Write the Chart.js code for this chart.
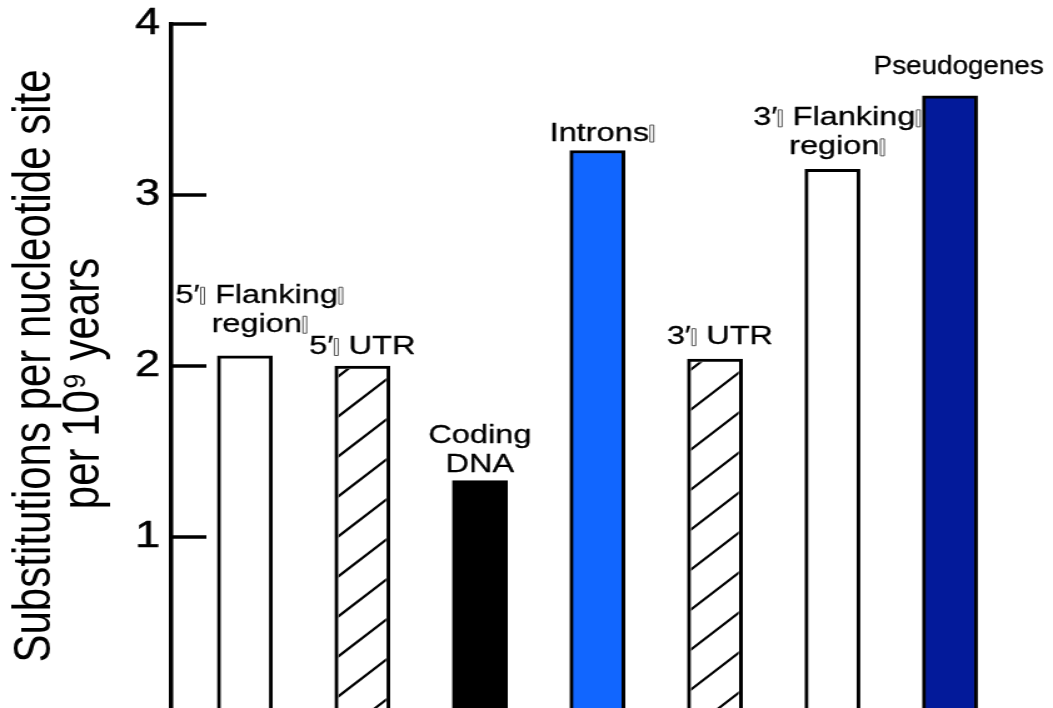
<!DOCTYPE html>
<html><head><meta charset="utf-8">
<script src="https://cdn.jsdelivr.net/npm/chart.js@4.4.0/dist/chart.umd.min.js"></script>
<style>
html,body{margin:0;padding:0;background:#fff;overflow:hidden;}
#wrap{width:1053px;height:708px;position:relative;overflow:hidden;background:#fff;}
#c{position:absolute;left:0;top:0;transform-origin:0 0;transform:scaleX(1.2506);}
</style></head><body>
<div id="wrap"><canvas id="c" width="842" height="708"></canvas></div>
<script>
// the original labels carry an unrenderable character, shown as a thin empty box
const T = '\uE000';
const categories = [
  ['5\u2032' + T + ' Flanking' + T, 'region' + T],
  ['5\u2032' + T + ' UTR'],
  ['Coding', 'DNA'],
  ['Introns' + T],
  ['3\u2032' + T + ' UTR'],
  ['3\u2032' + T + ' Flanking' + T, 'region' + T],
  ['Pseudogenes']
];
const substitutionRates = [2.06, 2.00, 1.33, 3.26, 2.04, 3.15, 3.58];
const yTicks = [1, 2, 3, 4];
const yTitle = ['Substitutions per nucleotide site', 'per 10\u2079 years   '];

// styles (kept apart from the data)
const barFills = ['#ffffff', '#ffffff', '#000000', '#1166ff', '#ffffff', '#ffffff', '#031a9a'];
const hatched = [false, true, false, false, true, false, false];
// small label nudges relative to each bar's own top-centre [dx, dy]
const labelNudge = [[12, -12], [0, 0], [0, 3], [4, 2], [4, -3], [4, -3], [7, -10]];
const LABEL_MAX_W = 136;
const FONT = '"Liberation Sans", Arial, sans-serif';

function drawLabelLine(ctx, str, cx, base) {
  const parts = str.split(T);
  const tofuAdv = 5;
  let total = 0;
  parts.forEach((p, k) => { total += ctx.measureText(p).width; if (k < parts.length - 1) total += tofuAdv; });
  const s = total > LABEL_MAX_W ? LABEL_MAX_W / total : 1;
  ctx.save();
  ctx.translate(cx, base);
  ctx.scale(s, 1);
  let x = -total / 2;
  parts.forEach((p, k) => {
    ctx.fillText(p, x, 0);
    ctx.strokeText(p, x, 0);
    x += ctx.measureText(p).width;
    if (k < parts.length - 1) {
      ctx.save();
      ctx.strokeStyle = '#444';
      ctx.lineWidth = 0.9;
      ctx.strokeRect(x + 0.8, -15.5, 3, 17);
      ctx.restore();
      x += tofuAdv;
    }
  });
  ctx.restore();
}

const decor = {
  id: 'decor',
  afterDatasetsDraw(chart) {
    const {ctx, chartArea, scales: {y}} = chart;
    const meta = chart.getDatasetMeta(0);
    ctx.save();
    ctx.strokeStyle = '#000';
    ctx.lineCap = 'butt';
    // inward tick marks
    ctx.lineWidth = 3.5;
    yTicks.forEach(v => {
      const py = y.getPixelForValue(v);
      ctx.beginPath();
      ctx.moveTo(chartArea.left - 1.5, py);
      ctx.lineTo(chartArea.left + 28, py);
      ctx.stroke();
    });
    // hatching
    meta.data.forEach((bar, i) => {
      if (!hatched[i]) return;
      const p = bar.getProps(['x', 'y', 'base', 'width'], true);
      const bw = 3;
      const L = p.x - p.width / 2;
      const h = p.base - p.y;
      ctx.save();
      ctx.beginPath();
      ctx.rect(L + bw, p.y + bw, p.width - 2 * bw, h - bw);
      ctx.clip();
      ctx.lineWidth = 2.2;
      const slope = 0.96, step = 40;
      const ax = L + 13.6, ay = p.y;
      for (let k = -1; k * step < h + 80; k++) {
        const yy = ay + k * step;
        ctx.beginPath();
        ctx.moveTo(ax - 100, yy + 100 * slope);
        ctx.lineTo(ax + 100, yy - 100 * slope);
        ctx.stroke();
      }
      ctx.restore();
    });
    // category labels above bars
    ctx.fillStyle = '#000';
    ctx.strokeStyle = '#000';
    ctx.lineWidth = 0.3;
    ctx.lineJoin = 'round';
    ctx.font = '26px ' + FONT;
    ctx.textAlign = 'left';
    ctx.textBaseline = 'alphabetic';
    meta.data.forEach((bar, i) => {
      const lines = categories[i];
      const [dx, dy] = labelNudge[i];
      lines.forEach((t, j) => {
        drawLabelLine(ctx, t, bar.x + dx, bar.y - 12 + dy - (lines.length - 1 - j) * 29);
      });
    });
    ctx.restore();
  }
};

new Chart(document.getElementById('c'), {
  type: 'bar',
  data: {
    datasets: [{
      data: substitutionRates.map((v, i) => ({x: i, y: v})),
      backgroundColor: barFills,
      borderColor: '#000',
      borderWidth: 3,
      borderSkipped: 'start',
      barThickness: 44
    }]
  },
  options: {
    responsive: false,
    animation: false,
    devicePixelRatio: 1,
    layout: {padding: {top: 24, left: 0, right: 0, bottom: 0}},
    plugins: {legend: {display: false}, tooltip: {enabled: false}},
    scales: {
      x: {type: 'linear', offset: false, min: -0.6255, max: 6.877, display: false},
      y: {
        min: 0, max: 4,
        afterBuildTicks: s => { s.ticks = yTicks.map(v => ({value: v})); },
        afterFit: s => { s.width = 137; s.paddingTop = 0; s.paddingBottom = 0; },
        ticks: {font: {family: FONT, size: 36}, color: '#000', padding: 9,
                textStrokeColor: '#000', textStrokeWidth: 0.5},
        grid: {drawOnChartArea: false, drawTicks: false},
        border: {display: true, color: '#000', width: 3.5},
        title: {
          display: true, text: yTitle, color: '#000',
          font: {family: FONT, size: 42, lineHeight: 0.95},
          padding: {top: 8, bottom: 0}
        }
      }
    }
  },
  plugins: [decor]
});
</script>
</body></html>
